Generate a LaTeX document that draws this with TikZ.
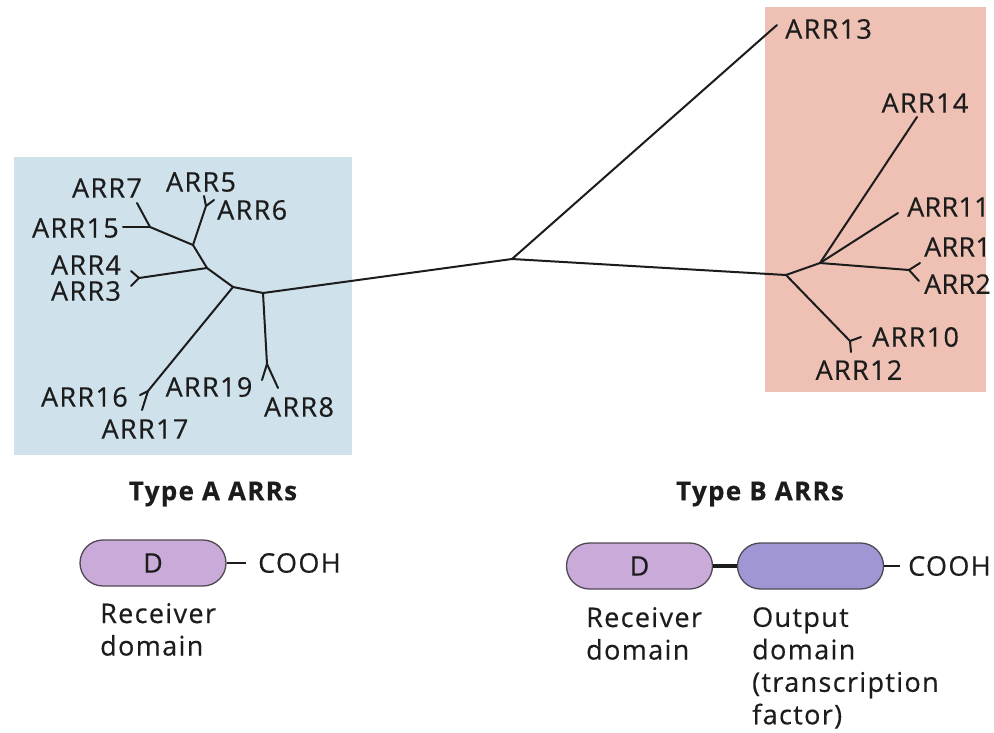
\documentclass[tikz,border=0pt]{standalone}
\usepackage{fontspec}
\setmainfont{Open Sans}[LetterSpace=5,FakeBold=0.4]
\definecolor{bluebg}{RGB}{207,226,236}
\definecolor{pinkbg}{RGB}{238,193,180}
\definecolor{recv}{RGB}{202,170,216}
\definecolor{outp}{RGB}{160,150,212}
\definecolor{ink}{RGB}{28,28,28}
\definecolor{rim}{RGB}{80,72,84}
\begin{document}
\begin{tikzpicture}[x=1pt,y=-1pt,
  branch/.style={draw=ink,line width=2pt,line cap=round,line join=round},
  lbl/.style={inner sep=0pt,text=ink,font=\fontsize{27}{32.5}\selectfont},
  tight/.style={lbl,font=\fontsize{27}{32.5}\selectfont\addfontfeature{LetterSpace=1}},
  txt/.style={inner sep=0pt,text=ink,align=left,font=\fontsize{27}{32.5}\selectfont},
  head/.style={inner sep=0pt,text=ink,font=\fontsize{26}{32.5}\selectfont\bfseries},
  pill/.style={draw=rim,line width=1.3pt,rounded corners=23pt,minimum width=146pt,
    minimum height=46pt,inner sep=0pt,text=ink,font=\fontsize{27}{32.5}\selectfont}]
\useasboundingbox (0,0) rectangle (994,732);
\fill[white] (0,0) rectangle (994,732);

% shaded groups
\fill[bluebg] (14,157) rectangle (352,455);
\fill[pinkbg] (765,7) rectangle (986,392);

% ---------- tree: junctions and tips ----------
\coordinate (C) at (512,259);
\coordinate (A) at (263,293);
\coordinate (B) at (233,287);
\coordinate (D) at (207,268);
\coordinate (E) at (193,245);
\coordinate (F) at (150,227);
\coordinate (f819) at (267,364);
\coordinate (t19) at (262,380);
\coordinate (t8) at (278,388);
\coordinate (f1617) at (148,391);
\coordinate (t16) at (140,395);
\coordinate (t17) at (142,410);
\coordinate (f34) at (139,278);
\coordinate (t4) at (131,271);
\coordinate (t3) at (131,286);
\coordinate (f56) at (206,206);
\coordinate (t5) at (204,196);
\coordinate (t6) at (214,200);
\coordinate (t15) at (123,227);
\coordinate (t7) at (137,203);

\coordinate (R1) at (786,275);
\coordinate (R2) at (820,263);
\coordinate (t13) at (777,25);
\coordinate (t14) at (917,117);
\coordinate (t11) at (898,213);
\coordinate (f12) at (909,270);
\coordinate (t1) at (920,263);
\coordinate (t2) at (919,281);
\coordinate (f1012) at (850,341);
\coordinate (t10) at (861,337);
\coordinate (t12) at (851,352);

% ---------- tree: branches ----------
\draw[branch] (A) -- (C);
\draw[branch] (A) -- (B) -- (D) -- (E) -- (F);
\draw[branch] (A) -- (f819);
\draw[branch] (f819) -- (t19);
\draw[branch] (f819) -- (t8);
\draw[branch] (B) -- (f1617);
\draw[branch] (f1617) -- (t16);
\draw[branch] (f1617) -- (t17);
\draw[branch] (D) -- (f34);
\draw[branch] (f34) -- (t4);
\draw[branch] (f34) -- (t3);
\draw[branch] (E) -- (f56);
\draw[branch] (f56) -- (t5);
\draw[branch] (f56) -- (t6);
\draw[branch] (F) -- (t15);
\draw[branch] (F) -- (t7);

\draw[branch] (C) -- (t13);
\draw[branch] (C) -- (R1);
\draw[branch] (R1) -- (R2);
\draw[branch] (R2) -- (t14);
\draw[branch] (R2) -- (t11);
\draw[branch] (R2) -- (f12);
\draw[branch] (f12) -- (t1);
\draw[branch] (f12) -- (t2);
\draw[branch] (R1) -- (f1012);
\draw[branch] (f1012) -- (t10);
\draw[branch] (f1012) -- (t12);

% ---------- leaf labels ----------
\node[lbl] (n7)  at (107,188) {ARR7};
\node[lbl] (n5)  at (201,182) {ARR5};
\node[lbl,anchor=west] (n6) at (217,210) {ARR6};
\node[lbl,anchor=east] (n15) at (119,228) {ARR15};
\node[lbl] (n4)  at (86,265) {ARR4};
\node[lbl] (n3)  at (86,291) {ARR3};
\node[lbl,anchor=east] (n16) at (128,397) {ARR16};
\node[lbl] (n17) at (145,429) {ARR17};
\node[lbl] (n19) at (209,387) {ARR19};
\node[lbl] (n8)  at (299,407) {ARR8};

\node[lbl,anchor=west] (n13) at (785,29) {ARR13};
\node[lbl] (n14) at (925,103) {ARR14};
\node[tight,anchor=west] (n11) at (907,207) {ARR11};
\node[tight,anchor=west] (n1) at (924,247) {ARR1};
\node[tight,anchor=west] (n2) at (924,284) {ARR2};
\node[lbl,anchor=west] (n10) at (872,337) {ARR10};
\node[lbl] (n12) at (859,370) {ARR12};

% ---------- domain structures ----------
\node[head] (typeA) at (213,494) {Type A ARRs};
\node[head] (typeB) at (760,494) {Type B ARRs};

\node[pill,fill=recv] (pA) at (153,563) {D};
\node[lbl,anchor=west] (cA) at (258,563) {COOH};
\draw[draw=ink,line width=1.4pt,shorten >=12pt] (pA.east) -- (cA.west);
\node[txt,anchor=north west] (rA) at (100,603) {Receiver\\domain};

\node[pill,fill=recv] (pB1) at (639.5,566) {D};
\node[pill,fill=outp] (pB2) at (810.5,566) {\phantom{D}};
\draw[draw=ink,line width=4pt] (pB1.east) -- (pB2.west);
\node[lbl,anchor=west] (cB) at (908,566) {COOH};
\draw[draw=ink,line width=1.4pt,shorten >=8pt] (pB2.east) -- (cB.west);
\node[txt,anchor=north west] (rB) at (586,607) {Receiver\\domain};
\node[txt,anchor=north west] (oB) at (752,607) {Output\\domain\\(transcription\\factor)};
\end{tikzpicture}
\end{document}
